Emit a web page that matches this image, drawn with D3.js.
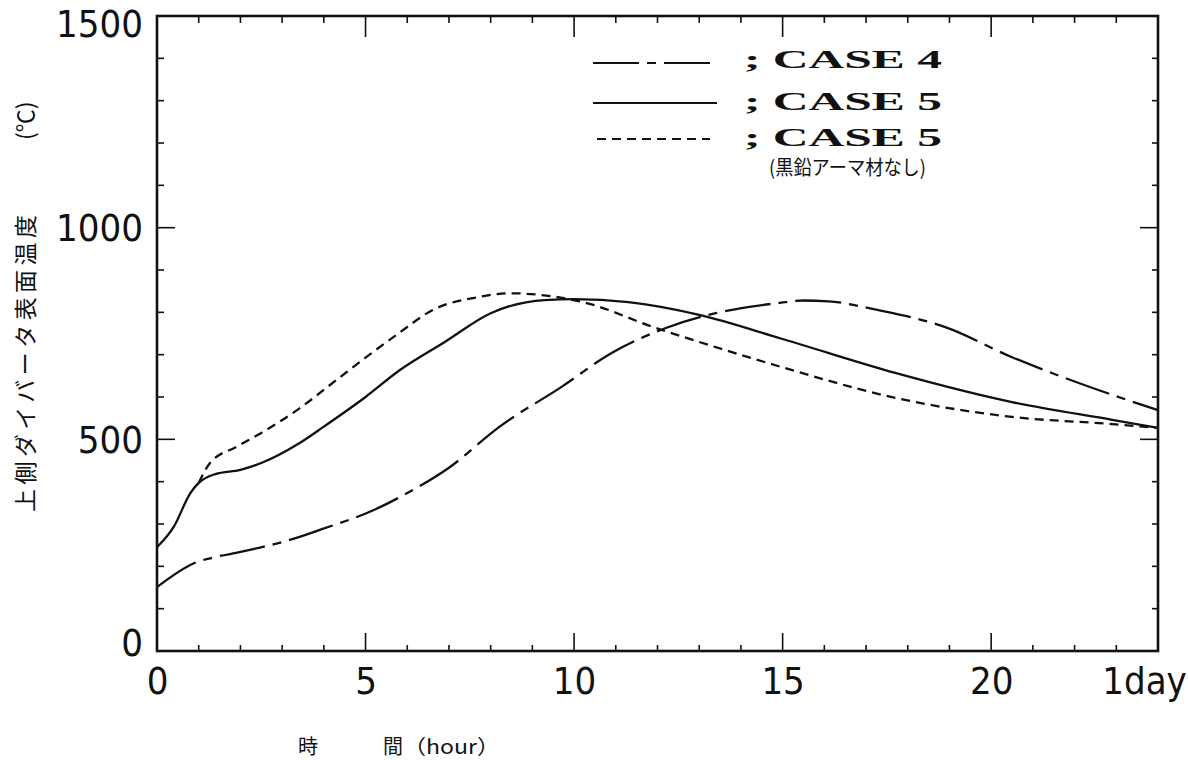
<!DOCTYPE html>
<html><head><meta charset="utf-8">
<script src="https://cdn.jsdelivr.net/npm/d3@7"></script>
<style>body{margin:0;background:#fff}svg{display:block}</style>
</head><body>
<svg id="c" width="1188" height="760"></svg>
<script>
// ---- data ----
const case4T = [0, 0.9, 1.4, 2, 3.4, 3.9, 5.2, 6, 7, 8.2, 9.7, 10.9, 12.2, 13.4, 14.9, 15.5, 16.1, 17.3, 18.9, 20.5, 22.1, 24];
const case4V = [151, 208, 222, 234, 269, 286, 333, 373, 433, 529, 624, 704, 763, 798, 822, 828, 826, 805, 765, 694, 633, 569];
const case5T = [0, 0.4, 0.8, 1.0, 1.4, 2, 2.5, 3.4, 4, 5, 5.8, 6.9, 8, 9.3, 10, 11.3, 13, 15, 17.7, 20.5, 22.9, 24];
const case5V = [245, 293, 373, 397, 418, 428, 444, 490, 530, 600, 662, 730, 798, 829, 831, 824, 794, 737, 657, 588, 546, 527];
const case5nT = [1.0, 1.27, 1.9, 2.5, 3.4, 4.3, 5, 5.8, 6.6, 7.7, 8.5, 9.2, 10.3, 11.9, 13, 15, 17.7, 20.5, 22.9, 24];
const case5nV = [397, 444, 482, 515, 572, 640, 693, 751, 805, 836, 845, 841, 822, 765, 730, 670, 598, 553, 536, 527];
const xTickValues = [0, 5, 10, 15, 20, 24];
const xTickLabels = ["0", "5", "10", "15", "20", "1day"];
const yTickValues = [0, 500, 1000, 1500];
const yTickLabels = ["0", "500", "1000", "1500"];
const legendLabels = ["; CASE 4", "; CASE 5", "; CASE 5"];
const legendNote = "(黒鉛アーマ材なし)";
const yTitleMain = "上側ダイバータ表面温度";
const yTitleUnit = "(℃)";
const xTitleParts = ["時", "間", "（hour）"];

// ---- layout ----
const svg = d3.select("#c");
const L = 157, R = 1158, T = 16, B = 651;
const x = d3.scaleLinear().domain([0, 24]).range([L, R]);
const y = d3.scaleLinear().domain([0, 1500]).range([B, T]);
const ink = "#111";

// minor / major ticks (inward)
const hours = d3.range(1, 24);
const hundreds = d3.range(100, 1500, 100);
const g = svg.append("g").attr("stroke", ink).attr("stroke-width", 1.6);
hours.forEach(h => {
  const major = h % 5 === 0;
  g.append("line").attr("x1", x(h)).attr("x2", x(h)).attr("y1", y(0)).attr("y2", y(0) - (major ? 18 : 6));
  g.append("line").attr("x1", x(h)).attr("x2", x(h)).attr("y1", y(1500)).attr("y2", y(1500) + (major ? 21 : 7));
});
hundreds.forEach(v => {
  const major = v % 500 === 0;
  g.append("line").attr("x1", x(0)).attr("x2", x(0) + (major ? 18 : 7)).attr("y1", y(v)).attr("y2", y(v));
  g.append("line").attr("x1", x(24)).attr("x2", x(24) - (major ? 18 : 6)).attr("y1", y(v)).attr("y2", y(v));
});

// frame
svg.append("rect").attr("x", L).attr("y", T).attr("width", R - L).attr("height", B - T)
  .attr("fill", "none").attr("stroke", ink).attr("stroke-width", 2.6);

// axis labels via d3 axes
const numFont = "'Liberation Sans Narrow', 'DejaVu Sans Condensed', 'Liberation Sans', sans-serif";
const xAxis = d3.axisBottom(x).tickValues(xTickValues).tickSize(0).tickPadding(16)
  .tickFormat((d, i) => xTickLabels[i]);
const gx = svg.append("g").attr("transform", `translate(0,${B})`).call(xAxis);
gx.select(".domain").remove();
gx.selectAll("text").attr("font-family", numFont)
  .attr("font-size", 38).attr("fill", ink)
  .attr("dx", (d, i) => i === xTickValues.length - 1 ? -14 : 0);

const yAxis = d3.axisLeft(y).tickValues(yTickValues).tickSize(0).tickPadding(14)
  .tickFormat((d, i) => yTickLabels[i]);
const gy = svg.append("g").attr("transform", `translate(${L},0)`).call(yAxis);
gy.select(".domain").remove();
gy.selectAll("text").attr("font-family", numFont)
  .attr("font-size", 38).attr("fill", ink)
  .attr("dy", d => d === 1500 ? "0.55em" : d === 0 ? "0.12em" : "0.35em");

// curves
const line = d3.line().x(d => x(d[0])).y(d => y(d[1])).curve(d3.curveMonotoneX);
const zip = (a, b) => a.map((t, i) => [t, b[i]]);
const styles = [
  { data: zip(case4T, case4V), dash: "46,8,9,8" },
  { data: zip(case5T, case5V), dash: null },
  { data: zip(case5nT, case5nV), dash: "9,6" }
];
styles.forEach(s => {
  svg.append("path").attr("d", line(s.data)).attr("fill", "none").attr("stroke", ink)
    .attr("stroke-width", 2.3).attr("stroke-dasharray", s.dash);
});

// legend
const legY = [63, 103, 139];
const legBase = [68, 110, 146];
const legX1 = [593, 593, 597], legX2 = [717, 717, 710];
legendLabels.forEach((lab, i) => {
  svg.append("line").attr("x1", legX1[i]).attr("x2", legX2[i]).attr("y1", legY[i]).attr("y2", legY[i])
    .attr("stroke", ink).attr("stroke-width", 2.2).attr("stroke-dasharray", styles[i].dash);
  svg.append("text").attr("x", 744).attr("y", legBase[i])
    .attr("font-family", "'Liberation Serif', serif").attr("font-weight", "bold")
    .attr("font-size", 25).attr("fill", ink)
    .attr("textLength", 198).attr("lengthAdjust", "spacingAndGlyphs")
    .text(lab);
});
svg.append("text").attr("x", 769).attr("y", 175)
  .attr("font-family", "'Noto Sans CJK JP', sans-serif").attr("font-size", 20).attr("fill", ink)
  .attr("textLength", 157).attr("lengthAdjust", "spacingAndGlyphs")
  .text(legendNote);

// axis titles
const cjk = "'Noto Sans CJK JP', sans-serif";
svg.append("text").attr("transform", "translate(34,512) rotate(-90)")
  .attr("text-anchor", "start")
  .attr("font-family", cjk).attr("font-size", 23).attr("fill", ink)
  .attr("textLength", 297).attr("lengthAdjust", "spacing")
  .text(yTitleMain);
svg.append("text").attr("transform", "translate(34,140) rotate(-90)")
  .attr("text-anchor", "start")
  .attr("font-family", cjk).attr("font-size", 23).attr("fill", ink)
  .text(yTitleUnit);
const xtX = [298, 383, 403];
xTitleParts.forEach((p, i) => {
  svg.append("text").attr("x", xtX[i]).attr("y", 754)
    .attr("font-family", cjk)
    .attr("font-size", 20).attr("fill", ink)
    .attr("textLength", i === 2 ? 97 : null)
    .attr("lengthAdjust", "spacingAndGlyphs")
    .text(p);
});
</script>
</body></html>
